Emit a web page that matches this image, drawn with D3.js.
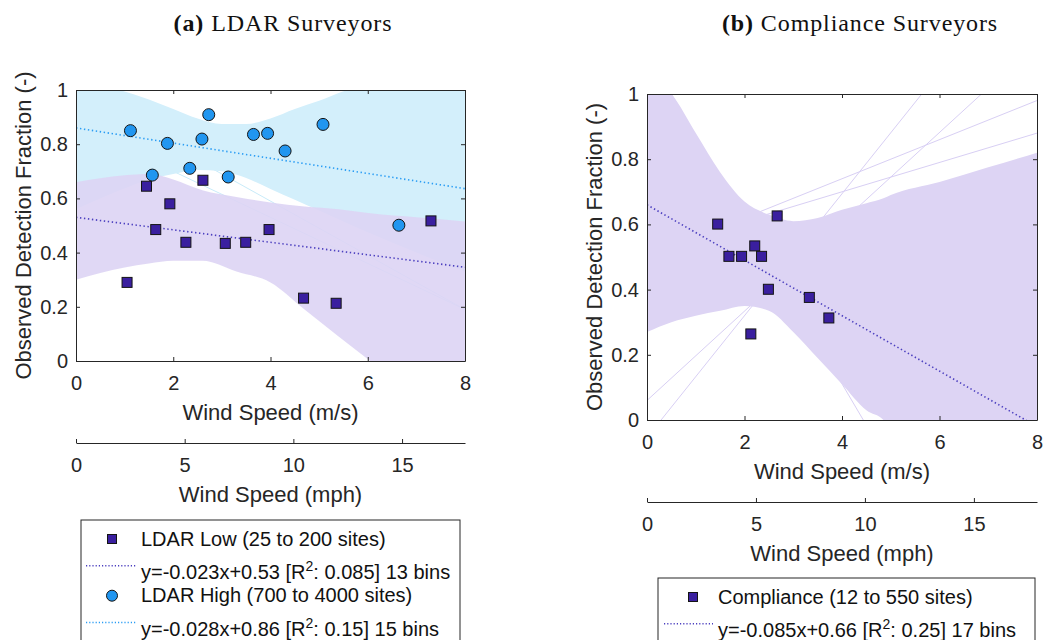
<!DOCTYPE html>
<html>
<head>
<meta charset="utf-8">
<script src="https://cdn.jsdelivr.net/npm/d3@7"></script>
<style>
  html, body { margin: 0; padding: 0; background: #fff; }
  svg { display: block; }
</style>
</head>
<body>
<svg id="chart" width="1043" height="640"></svg>
<script>
// ---- Binned detection fractions --------------------------------------
const ldarLowWind = [1.05, 1.45, 1.64, 1.93, 2.26, 2.61, 3.07, 3.49, 3.97, 4.68, 5.35, 7.30];
const ldarLowFrac = [0.29, 0.645, 0.485, 0.58, 0.438, 0.667, 0.434, 0.438, 0.485, 0.232, 0.213, 0.517];

const ldarHighWind = [1.12, 1.57, 1.88, 2.34, 2.59, 2.73, 3.13, 3.65, 3.94, 4.30, 5.08, 6.64];
const ldarHighFrac = [0.85, 0.686, 0.803, 0.711, 0.819, 0.909, 0.679, 0.836, 0.840, 0.775, 0.873, 0.501];

const complianceWind = [1.45, 1.68, 1.94, 2.21, 2.35, 2.67, 2.13, 2.49, 3.33, 3.73];
const complianceFrac = [0.601, 0.502, 0.502, 0.534, 0.502, 0.626, 0.264, 0.401, 0.376, 0.313];

// ---- Linear fits (slope, intercept) ----------------------------------
const fitSlopes     = { low: -0.023, high: -0.028, comp: -0.085 };
const fitIntercepts = { low: 0.53,   high: 0.86,   comp: 0.66 };

// ---- Bootstrap fit envelopes (spread of resampled regression lines) --
const ldarLowBandX     = [0, 1, 1.5, 2, 2.6, 3.3, 4, 4.7, 5.4, 6.05, 7, 8];
const ldarLowBandUpper = [0.66, 0.685, 0.69, 0.67, 0.63, 0.605, 0.585, 0.57, 0.56, 0.545, 0.53, 0.515];
const ldarLowBandLower = [0.30, 0.345, 0.36, 0.37, 0.37, 0.33, 0.29, 0.19, 0.09, 0.0, -0.14, -0.28];

const ldarHighBandX     = [0, 0.9, 1.5, 2, 2.5, 3, 3.5, 4, 4.5, 5, 5.5, 6, 7, 8];
const ldarHighBandUpper = [1.05, 1.0, 0.965, 0.93, 0.895, 0.875, 0.875, 0.895, 0.93, 0.96, 0.995, 1.02, 1.06, 1.1];
const ldarHighBandLower = [0.56, 0.63, 0.67, 0.69, 0.705, 0.70, 0.675, 0.635, 0.595, 0.555, 0.515, 0.475, 0.40, 0.33];

const compBandX     = [0, 0.5, 1, 1.5, 2, 2.5, 3, 3.5, 4, 4.5, 4.85, 5, 6, 7, 8];
const compBandUpper = [1.05, 1.0, 0.88, 0.76, 0.67, 0.63, 0.61, 0.62, 0.645, 0.665, 0.68, 0.69, 0.73, 0.775, 0.82];
const compBandLower = [0.27, 0.30, 0.32, 0.335, 0.35, 0.335, 0.27, 0.19, 0.11, 0.03, 0.0, -0.03, -0.2, -0.4, -0.6];

// A few resampled lines that stray outside the dense envelope
const ldarHighStraySlopes     = [-0.10, -0.085];
const ldarHighStrayIntercepts = [0.99, 0.87];
const compStraySlopes     = [-0.254, 0.187, 0.137, 0.06, 0.045];
const compStrayIntercepts = [1.127, -0.054, 0.06, 0.50, 0.52];

// ---- Axis ticks -------------------------------------------------------
const windTicks = [0, 2, 4, 6, 8];
const fracTicks = [0, 0.2, 0.4, 0.6, 0.8, 1];
const fracTickLabels = ["0", "0.2", "0.4", "0.6", "0.8", "1"];
const mphTicks = [0, 5, 10, 15];
const MPH_PER_MS = 2.23694;

// ---- Legend entries ----------------------------------------------------
const leftLegendNames = ["LDAR Low (25 to 200 sites)", "LDAR High (700 to 4000 sites)"];
const leftLegendFits  = [["y=-0.023x+0.53 [R", "2", ": 0.085] 13 bins"], ["y=-0.028x+0.86 [R", "2", ": 0.15] 15 bins"]];
const rightLegendNames = ["Compliance (12 to 550 sites)"];
const rightLegendFits  = [["y=-0.085x+0.66 [R", "2", ": 0.25] 17 bins"]];

// ---- Styling ------------------------------------------------------------
const AX = "#262626";
const SANS = "'Liberation Sans', Arial, sans-serif";
const SERIF = "'Liberation Serif', 'DejaVu Serif', serif";
const COL = {
  lowBand: "#ddd4f4", highBand: "#d3effb",
  lowLine: "#d8cff4", highLine: "#c8ebf9",
  square: "#3a1f9f", circle: "#2196f0",
  lowFit: "#4b3fbf", highFit: "#2a9df4"
};

const svg = d3.select("#chart");

function panel(opt) {
  const x = d3.scaleLinear().domain([0, 8]).range([opt.x0, opt.x1]);
  const y = d3.scaleLinear().domain([0, 1]).range([opt.y1, opt.y0]);
  const g = svg.append("g");
  const clipId = "clip-" + opt.id;
  g.append("clipPath").attr("id", clipId)
    .append("rect").attr("x", opt.x0).attr("y", opt.y0)
    .attr("width", opt.x1 - opt.x0).attr("height", opt.y1 - opt.y0);
  const plot = g.append("g").attr("clip-path", `url(#${clipId})`);

  const area = d3.area().x(d => x(d[0])).y0(d => y(d[1])).y1(d => y(d[2])).curve(d3.curveMonotoneX);
  const line = d3.line().x(d => x(d[0])).y(d => y(d[1]));

  opt.bands.forEach(b => {
    b.straySlopes.forEach((s, i) => {
      const c = b.strayIntercepts[i];
      plot.append("path").attr("d", line([[0, c], [8, c + 8 * s]]))
        .attr("fill", "none").attr("stroke", b.stroke).attr("stroke-width", 1);
    });
    const pts = b.xs.map((v, i) => [v, b.lower[i], b.upper[i]]);
    plot.append("path").attr("d", area(pts)).attr("fill", b.fill).attr("fill-opacity", b.opacity);
  });

  // fitted trend lines
  opt.fits.forEach(f => {
    plot.append("path")
      .attr("d", line([[0, f.b], [8, f.b + 8 * f.m]]))
      .attr("fill", "none").attr("stroke", f.color).attr("stroke-width", 1.6)
      .attr("stroke-dasharray", "1.4,2.6");
  });

  // markers
  opt.series.forEach(s => {
    const pts = s.xs.map((v, i) => [v, s.ys[i]]);
    if (s.shape === "square") {
      plot.selectAll(null).data(pts).enter().append("rect")
        .attr("x", d => x(d[0]) - 5).attr("y", d => y(d[1]) - 5)
        .attr("width", 10).attr("height", 10)
        .attr("fill", s.color).attr("stroke", "#141414").attr("stroke-width", 1);
    } else {
      plot.selectAll(null).data(pts).enter().append("circle")
        .attr("cx", d => x(d[0])).attr("cy", d => y(d[1])).attr("r", 6)
        .attr("fill", s.color).attr("stroke", "#141414").attr("stroke-width", 1);
    }
  });

  // box with inward ticks on all sides
  const tickLen = 4;
  const axB = d3.axisBottom(x).tickValues(windTicks).tickSizeInner(-tickLen).tickSizeOuter(0).tickPadding(15);
  const axT = d3.axisTop(x).tickValues(windTicks).tickSizeInner(-tickLen).tickSizeOuter(0).tickFormat("");
  const axL = d3.axisLeft(y).tickValues(fracTicks).tickSizeInner(-tickLen).tickSizeOuter(0).tickPadding(8)
    .tickFormat((d, i) => fracTickLabels[i]);
  const axR = d3.axisRight(y).tickValues(fracTicks).tickSizeInner(-tickLen).tickSizeOuter(0).tickFormat("");

  const gb = g.append("g").attr("transform", `translate(0,${opt.y1})`).call(axB);
  const gt = g.append("g").attr("transform", `translate(0,${opt.y0})`).call(axT);
  const gl = g.append("g").attr("transform", `translate(${opt.x0},0)`).call(axL);
  const gr = g.append("g").attr("transform", `translate(${opt.x1},0)`).call(axR);
  [gb, gt, gl, gr].forEach(a => {
    a.selectAll("path").attr("stroke", AX).attr("stroke-width", 1);
    a.selectAll("line").attr("stroke", AX);
    a.selectAll("text").attr("fill", AX).style("font-family", SANS).style("font-size", "20px");
  });

  // y label
  g.append("text")
    .attr("transform", `translate(${opt.x0 - 45},${(opt.y0 + opt.y1) / 2}) rotate(-90)`)
    .attr("text-anchor", "middle").attr("fill", AX)
    .style("font-family", SANS).style("font-size", "22px")
    .text("Observed Detection Fraction (-)");

  // x label (m/s)
  g.append("text")
    .attr("x", (opt.x0 + opt.x1) / 2).attr("y", opt.y1 + 59)
    .attr("text-anchor", "middle").attr("fill", AX)
    .style("font-family", SANS).style("font-size", "22px")
    .text("Wind Speed (m/s)");

  // secondary mph axis
  const xm = d3.scaleLinear().domain([0, 8 * MPH_PER_MS]).range([opt.x0, opt.x1]);
  const gm = g.append("g").attr("transform", `translate(0,${opt.mphY})`)
    .call(d3.axisBottom(xm).tickValues(mphTicks).tickSizeInner(-tickLen).tickSizeOuter(0).tickPadding(15));
  gm.selectAll("path").attr("stroke", AX);
  gm.selectAll("line").attr("stroke", AX);
  gm.selectAll("text").attr("fill", AX).style("font-family", SANS).style("font-size", "20px");
  g.append("text")
    .attr("x", (opt.x0 + opt.x1) / 2).attr("y", opt.mphY + 59)
    .attr("text-anchor", "middle").attr("fill", AX)
    .style("font-family", SANS).style("font-size", "22px")
    .text("Wind Speed (mph)");

  // title
  const t = svg.append("text")
    .attr("x", opt.titleX).attr("y", 31).attr("text-anchor", "middle").attr("fill", "#111")
    .style("font-family", SERIF).style("font-size", "24px").style("letter-spacing", "0.9px");
  t.append("tspan").style("font-weight", "bold").text(opt.tag);
  t.append("tspan").text(" " + opt.title);

  // legend
  const L = opt.legend;
  svg.append("rect").attr("x", L.x).attr("y", L.y).attr("width", L.w).attr("height", 200)
    .attr("fill", "#fff").attr("stroke", AX).attr("stroke-width", 1);
  L.entries.forEach((e, i) => {
    const top = L.y + i * 56.7;
    const cy = top + 19;
    if (e.shape === "square") {
      svg.append("rect").attr("x", L.markX - 4.5).attr("y", cy - 4.5).attr("width", 9).attr("height", 9)
        .attr("fill", e.color).attr("stroke", "#141414").attr("stroke-width", 1);
    } else {
      svg.append("circle").attr("cx", L.markX).attr("cy", cy).attr("r", 5.5)
        .attr("fill", e.color).attr("stroke", "#141414").attr("stroke-width", 1);
    }
    svg.append("text").attr("x", L.textX).attr("y", top + 25.7).attr("fill", "#111")
      .style("font-family", SANS).style("font-size", "20px").text(e.name);
    const ly = top + 45.7;
    svg.append("line").attr("x1", L.lineX0).attr("x2", L.lineX1).attr("y1", ly).attr("y2", ly)
      .attr("stroke", e.fitColor).attr("stroke-width", 1.5).attr("stroke-dasharray", "1.2,2");
    const ft = svg.append("text").attr("x", L.textX).attr("y", top + 59).attr("fill", "#111")
      .style("font-family", SANS).style("font-size", "20px");
    ft.append("tspan").text(e.fit[0]);
    ft.append("tspan").attr("dy", -8).style("font-size", "14px").text(e.fit[1]);
    ft.append("tspan").attr("dy", 8).text(e.fit[2]);
  });
}

panel({
  id: "a", x0: 76, x1: 465, y0: 90, y1: 361, mphY: 443,
  tag: "(a)", title: "LDAR Surveyors", titleX: 283,
  bands: [
    { xs: ldarHighBandX, upper: ldarHighBandUpper, lower: ldarHighBandLower,
      fill: COL.highBand, opacity: 1, stroke: COL.highLine,
      straySlopes: ldarHighStraySlopes, strayIntercepts: ldarHighStrayIntercepts },
    { xs: ldarLowBandX, upper: ldarLowBandUpper, lower: ldarLowBandLower,
      fill: COL.lowBand, opacity: 0.9, stroke: COL.lowLine,
      straySlopes: [], strayIntercepts: [] }
  ],
  fits: [
    { m: fitSlopes.low, b: fitIntercepts.low, color: COL.lowFit },
    { m: fitSlopes.high, b: fitIntercepts.high, color: COL.highFit }
  ],
  series: [
    { xs: ldarLowWind, ys: ldarLowFrac, shape: "square", color: COL.square },
    { xs: ldarHighWind, ys: ldarHighFrac, shape: "circle", color: COL.circle }
  ],
  legend: {
    x: 81, y: 520, w: 379, markX: 112, lineX0: 86, lineX1: 136, textX: 141,
    entries: [
      { name: leftLegendNames[0], fit: leftLegendFits[0], shape: "square", color: COL.square, fitColor: COL.lowFit },
      { name: leftLegendNames[1], fit: leftLegendFits[1], shape: "circle", color: COL.circle, fitColor: COL.highFit }
    ]
  }
});

panel({
  id: "b", x0: 647, x1: 1037, y0: 94, y1: 420, mphY: 502,
  tag: "(b)", title: "Compliance Surveyors", titleX: 860,
  bands: [
    { xs: compBandX, upper: compBandUpper, lower: compBandLower,
      fill: COL.lowBand, opacity: 1, stroke: COL.lowLine,
      straySlopes: compStraySlopes, strayIntercepts: compStrayIntercepts }
  ],
  fits: [ { m: fitSlopes.comp, b: fitIntercepts.comp, color: COL.lowFit } ],
  series: [ { xs: complianceWind, ys: complianceFrac, shape: "square", color: COL.square } ],
  legend: {
    x: 658, y: 578, w: 377, markX: 693, lineX0: 664, lineX1: 713, textX: 718,
    entries: [
      { name: rightLegendNames[0], fit: rightLegendFits[0], shape: "square", color: COL.square, fitColor: COL.lowFit }
    ]
  }
});
</script>
</body>
</html>
